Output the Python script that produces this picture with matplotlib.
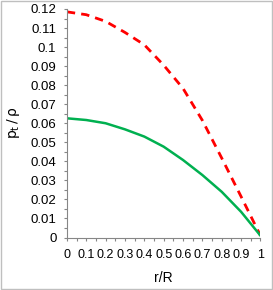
import matplotlib.pyplot as plt
from matplotlib.ticker import MultipleLocator

# r/R positions and the two pressure profiles
r = [0, 0.1, 0.2, 0.3, 0.4, 0.5, 0.6, 0.7, 0.8, 0.9, 1.0]
p_red = [0.1185, 0.117, 0.1135, 0.1077, 0.1012, 0.0905, 0.0783, 0.0615, 0.0417, 0.0215, 0.001]
p_green = [0.0626, 0.0617, 0.060, 0.0568, 0.053, 0.0477, 0.0407, 0.0328, 0.024, 0.0135, 0.001]

x_labels = ['0', '0.1', '0.2', '0.3', '0.4', '0.5', '0.6', '0.7', '0.8', '0.9', '1']
y_ticks = [0, 0.01, 0.02, 0.03, 0.04, 0.05, 0.06, 0.07, 0.08, 0.09, 0.10, 0.11, 0.12]
y_labels = ['0', '0.01', '0.02', '0.03', '0.04', '0.05', '0.06', '0.07', '0.08',
            '0.09', '0.1', '0.11', '0.12']

plt.rcParams['font.family'] = ['Liberation Sans', 'DejaVu Sans']

fig = plt.figure(figsize=(2.73, 2.90), dpi=100)
ax = fig.add_axes([0.245, 0.181, 0.709, 0.788])

ax.plot(r, p_red, color='#FF0000', lw=2, ls=(0, (3, 2.2)))
ax.plot(r, p_green, color='#00B050', lw=1.8)

ax.set_xlim(0, 1)
ax.set_ylim(0, 0.12)
ax.set_xticks(r)
ax.set_xticklabels(x_labels)
ax.set_yticks(y_ticks)
ax.set_yticklabels(y_labels)
ax.xaxis.set_minor_locator(MultipleLocator(0.05))
ax.yaxis.set_minor_locator(MultipleLocator(0.005))

for s in ['top', 'right']:
    ax.spines[s].set_visible(False)
for s in ['left', 'bottom']:
    ax.spines[s].set_color('#868686')
    ax.spines[s].set_linewidth(0.8)

ax.tick_params(which='both', direction='out', color='#868686', width=0.8, length=2.5)
ax.tick_params(which='major', labelsize=9.5, pad=5)
ax.tick_params(axis='x', which='major', labelsize=9, pad=6)

ax.set_xlabel('r/R', fontsize=10, labelpad=7)
ax.set_ylabel(r'$\mathrm{p_t\,/\,\rho}$', fontsize=10, labelpad=6)

fig.patches.append(plt.Rectangle((0.002, 0.002), 0.996, 0.996, transform=fig.transFigure,
                                 fill=False, edgecolor='#BFBFBF', lw=1))

fig.savefig('out.png', dpi=100)
